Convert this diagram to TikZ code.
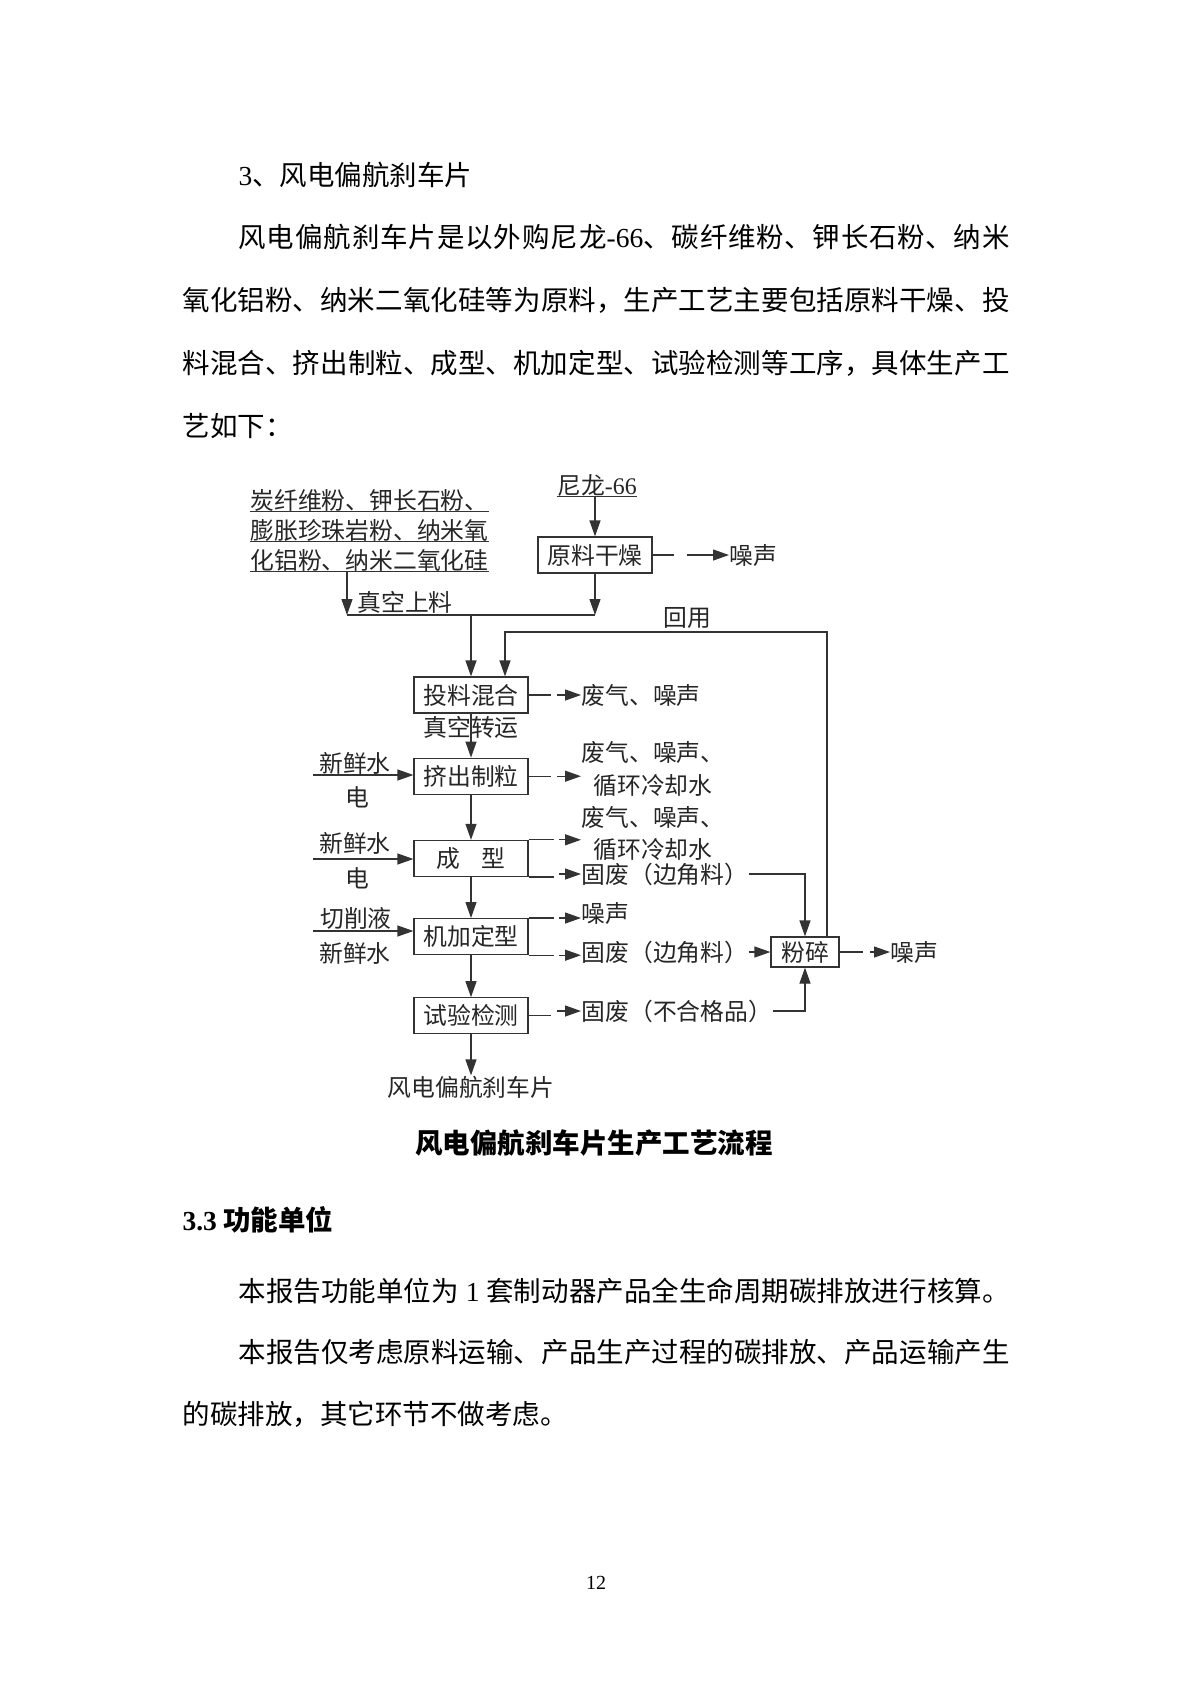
\documentclass[tikz,border=0pt]{standalone}
\usepackage{fontspec}
\setmainfont{Noto Sans CJK SC}
\newfontfamily\tnr{Liberation Serif}
\usetikzlibrary{arrows.meta,positioning}
\XeTeXlinebreaklocale "zh"
\XeTeXlinebreakskip=0pt plus 3pt
\newcommand\dgmfont{\fontsize{11.9pt}{16.5pt}\selectfont}
\newcommand\bodyfont{\fontsize{13.75pt}{20pt}\selectfont}
\newcommand\justline[2]{\parbox{#1}{\parindent=0pt\parfillskip=0pt\relax #2}}

\begin{document}
\begin{tikzpicture}[
    x=0.5pt, y=-0.5pt,
    >={Triangle[length=8pt,width=5.5pt]},
    every path/.style={line width=0.6pt, color=black!80},
    proc/.style={draw, minimum width=57pt, minimum height=18pt, inner sep=0pt, font=\dgmfont, text=black!85},
    lab/.style={inner sep=0pt, font=\dgmfont, text=black!85},
    outlab/.style={lab, anchor=west, align=center},
    body/.style={inner sep=0pt, anchor=west, font=\bodyfont, text=black},
]
\fill[white] (0,0) rectangle (1190,1683);
\useasboundingbox (0,0) rectangle (1190,1683);

% Text above
\node[body] (head) at (238,175) {{\tnr 3}、风电偏航刹车片};
\node[body] (p1) at (238,237) {\justline{385.5pt}{风电偏航刹车片是以外购尼龙{\tnr -66}、碳纤维粉、钾长石粉、纳米}};
\node[body] (p2) at (182,300) {\justline{413.5pt}{氧化铝粉、纳米二氧化硅等为原料，生产工艺主要包括原料干燥、投}};
\node[body] (p3) at (182,363) {\justline{413.5pt}{料混合、挤出制粒、成型、机加定型、试验检测等工序，具体生产工}};
\node[body] (p4) at (182,426) {艺如下：};

% Raw materials
\node[lab] (raw1) at (369.5,500) {炭纤维粉、钾长石粉、};
\node[lab] (raw2) at (369.5,530) {膨胀珍珠岩粉、纳米氧};
\node[lab] (raw3) at (369.5,560) {化铝粉、纳米二氧化硅};
\foreach \r in {raw1,raw2,raw3}
  \draw (\r.south west) -- (\r.south east);
\node[lab] (nylon) at (597,485) {尼龙{\tnr -66}};
\draw (nylon.south west) -- (nylon.south east);

% Process boxes
\node[proc] (dry) at (595,555) {原料干燥};
\node[proc] (mix) at (471,695) {投料混合};
\node[proc, below=22pt of mix] (extr) {挤出制粒};
\node[proc, below=22.5pt of extr] (mold) {成\hspace{0.9em}型};
\node[proc, below=20.5pt of mold] (mach) {机加定型};
\node[proc, below=21pt of mach] (test) {试验检测};
\node[proc, minimum width=34pt, minimum height=15pt] (crush) at (805,952) {粉碎};
\node[lab, below=20.5pt of test] (prod) {风电偏航刹车片};

% Feed lines
\coordinate (jl) at (347,615);
\coordinate (jm) at (471,615);
\coordinate (jr) at (595,615);
\draw[->] (nylon.south -| dry) -- (dry);
\draw[->] (raw3.south -| jl) -- (jl);
\draw[->] (dry) -- (jr);
\draw (jl) -- (jr);
\draw[->] (jm) -- (mix);
\node[lab] (vac1) at (405,602) {真空上料};

% Recycling
\coordinate (rt) at (827,632);
\coordinate (rl) at (505,632);
\draw[->] (crush.north -| rt) -- (rt) -- (rl) -- (rl |- mix.north);
\node[lab] (back) at (687,618) {回用};

% Main column
\draw[->] (mix) -- (extr);
\node[lab] (vac2) at (471,727) {真空转运};
\draw[->] (extr) -- (mold);
\draw[->] (mold) -- (mach);
\draw[->] (mach) -- (test);
\draw[->] (test) -- (prod);

% Inputs
\coordinate (w2) at (313,775);
\coordinate (w3) at (313,859);
\coordinate (w4) at (313,931);
\draw[->] (w2) -- (w2 -| extr.west);
\draw[->] (w3) -- (w3 -| mold.west);
\draw[->] (w4) -- (w4 -| mach.west);
\node[lab] (in2a) at (355,763) {新鲜水};
\node[lab] (in2b) at (357,797) {电};
\node[lab] (in3a) at (355,843) {新鲜水};
\node[lab] (in3b) at (357,878) {电};
\node[lab] (in4a) at (356,918) {切削液};
\node[lab] (in4b) at (355,953) {新鲜水};

% Outputs
\node[outlab] (o0) at (729,555) {噪声};
\draw (dry.east) -- ++(21,0);
\draw[->] ([xshift=-21pt]o0.west) -- (o0.west);

\node[outlab] (o1) at (581,695) {废气、噪声};
\draw (mix.east) -- ++(22,0);
\draw[->] ([xshift=-12pt]o1.west) -- (o1.west);

\node[outlab] (o2) at (581,769.5) {废气、噪声、\\循环冷却水};
\coordinate (a2) at (extr.east -| o2.west);
\draw (extr.east) -- ++(22,0);
\draw[->] ([xshift=-12pt]a2) -- (a2);

\node[outlab] (o3) at (581,833.5) {废气、噪声、\\循环冷却水};
\coordinate (a3) at (mold.north east -| o3.west);
\draw (mold.north east) -- ++(25,0);
\draw[->] ([xshift=-11pt]a3) -- (a3);

\node[outlab] (o4) at (581,874) {固废（边角料）};
\draw (mold.south east) -- ++(25,0);
\draw[->] ([xshift=-11pt]o4.west) -- (o4.west);
\draw[->] (o4.east) -| (crush.north);

\node[outlab] (o5) at (581,913) {噪声};
\coordinate (a5) at (mach.north east -| o5.west);
\draw (mach.north east) -- ++(25,0);
\draw[->] ([xshift=-11pt]a5) -- (a5);

\node[outlab] (o6) at (581,952) {固废（边角料）};
\coordinate (a6) at (mach.south east -| o6.west);
\draw (mach.south east) -- ++(25,0);
\draw[->] ([xshift=-11pt]a6) -- (a6);
\draw[->] (o6.east) -- (crush.west);

\node[outlab] (o7) at (581,1011) {固废（不合格品）};
\draw (test.east) -- ++(22,0);
\draw[->] ([xshift=-12pt]o7.west) -- (o7.west);
\draw[->] (o7.east) -| (crush.south);

\node[outlab] (o8) at (890,952) {噪声};
\draw (crush.east) -- ++(23,0);
\draw[->] ([xshift=-10pt]o8.west) -- (o8.west);

% Text below
\node[inner sep=0pt, font=\bodyfont\bfseries, text=black] (cap) at (594,1143) {风电偏航刹车片生产工艺流程};
\node[body, font=\bodyfont\bfseries] (sec) at (182,1220) {{\tnr 3.3} 功能单位};
\node[body] (q1) at (238,1291) {\justline{385.5pt}{本报告功能单位为{\tnr\ 1 }套制动器产品全生命周期碳排放进行核算。}};
\node[body] (q2) at (238,1352) {\justline{385.5pt}{本报告仅考虑原料运输、产品生产过程的碳排放、产品运输产生}};
\node[body] (q3) at (182,1414) {的碳排放，其它环节不做考虑。};
\node[inner sep=0pt, font=\tnr\fontsize{10pt}{12pt}\selectfont, text=black] (pgno) at (596,1583) {12};
\end{tikzpicture}
\end{document}
